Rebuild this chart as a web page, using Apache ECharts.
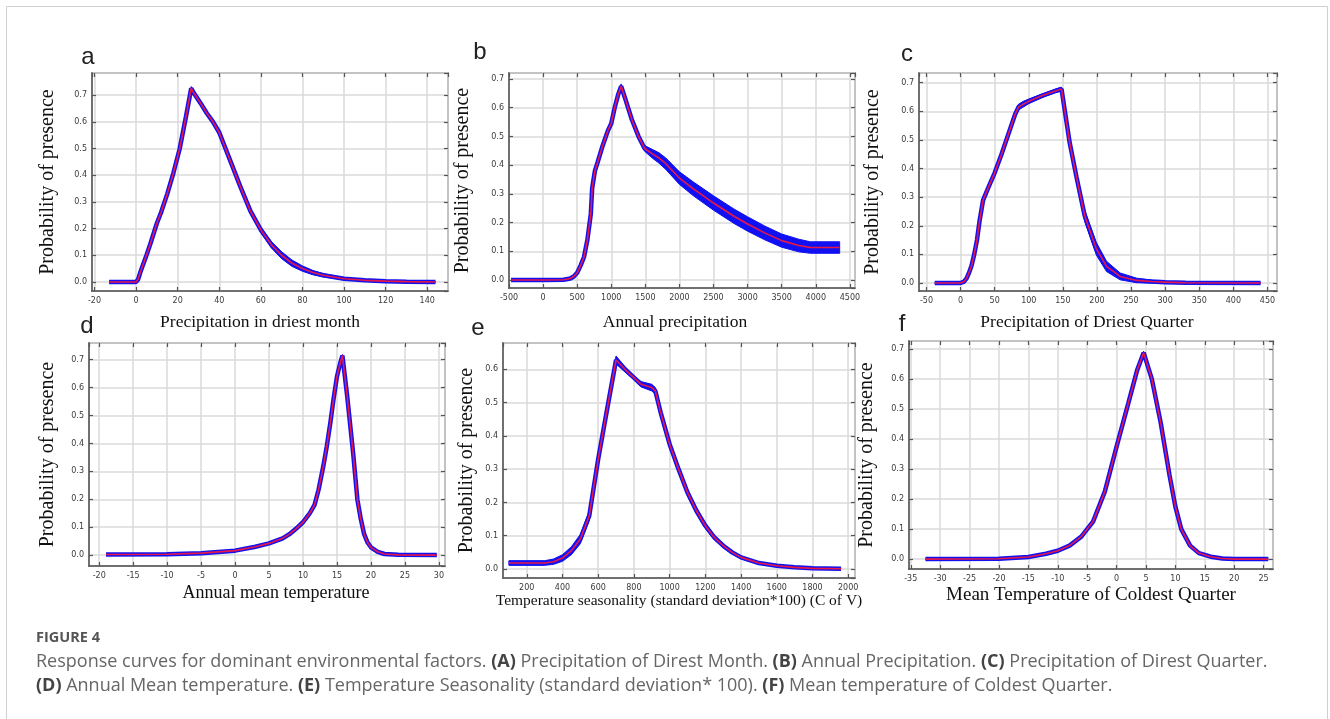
<!DOCTYPE html>
<html><head><meta charset="utf-8">
<script src="https://cdn.jsdelivr.net/npm/echarts@6/dist/echarts.min.js"></script>
<style>html,body{margin:0;padding:0;background:#fff;}#chart{width:1330px;height:719px;}</style>
</head><body><div id="chart"></div>
<script>
// ---- data ----
const aX = [-13,0,1,2,5,7,10,12,15,18,21,24,26.5,28,31,34,37,40,45,50,55,60,65,70,75,80,85,90,100,110,120,130,144];
const aY = [0,0,0.01,0.035,0.1,0.146,0.22,0.26,0.33,0.41,0.5,0.62,0.725,0.705,0.67,0.632,0.6,0.56,0.46,0.36,0.265,0.195,0.14,0.1,0.07,0.05,0.035,0.025,0.012,0.006,0.003,0.001,0];
const aBand = [0,0,0.003,0.005,0.006,0.006,0.006,0.006,0.006,0.006,0.006,0.006,0.007,0.006,0.006,0.006,0.006,0.006,0.007,0.007,0.008,0.01,0.012,0.013,0.012,0.01,0.008,0.006,0.004,0.002,0.001,0,0];

const bX = [-470,0,300,400,450,500,550,600,650,700,720,760,800,870,950,1000,1050,1100,1145,1200,1300,1400,1490,1600,1700,1800,2000,2200,2500,2800,3000,3250,3500,3750,3920,4350];
const bY = [0,0,0.001,0.005,0.012,0.025,0.05,0.08,0.14,0.23,0.32,0.38,0.41,0.465,0.52,0.545,0.6,0.645,0.675,0.635,0.56,0.5,0.458,0.44,0.425,0.405,0.355,0.318,0.268,0.222,0.195,0.164,0.137,0.12,0.113,0.113];
const bBand = [0,0,0,0.002,0.004,0.005,0.006,0.007,0.008,0.01,0.012,0.012,0.012,0.012,0.01,0.008,0.008,0.008,0.008,0.006,0.006,0.006,0.01,0.015,0.018,0.02,0.022,0.024,0.025,0.025,0.025,0.024,0.023,0.022,0.02,0.02];

const cX = [-38,0,5,9,13,16,20,24,28,33,40,50,60,70,80,85,92,100,120,140,148,160,170,182,199,214,234,258,280,300,330,440];
const cY = [0,0,0.005,0.017,0.04,0.06,0.1,0.15,0.22,0.29,0.33,0.385,0.45,0.52,0.59,0.615,0.625,0.635,0.655,0.672,0.678,0.49,0.37,0.235,0.12,0.058,0.023,0.009,0.005,0.003,0.001,0];
const cBand = [0,0,0.003,0.005,0.008,0.01,0.012,0.012,0.012,0.012,0.008,0.006,0.006,0.006,0.008,0.01,0.01,0.008,0.006,0.006,0.006,0.01,0.015,0.02,0.022,0.018,0.012,0.008,0.005,0.003,0.001,0];

const dX = [-19,-10,-5,0,3,5,7,8,9,10,11,11.7,12.3,13,13.5,14,14.5,15,15.5,15.8,16.5,17.4,18,18.5,19,19.5,20,21,22,24,29.7];
const dY = [0.002,0.003,0.007,0.016,0.03,0.042,0.06,0.075,0.095,0.118,0.15,0.18,0.235,0.32,0.39,0.47,0.56,0.64,0.69,0.715,0.57,0.36,0.2,0.13,0.075,0.045,0.028,0.012,0.004,0.001,0];
const dBand = [0,0,0.002,0.003,0.003,0.004,0.005,0.006,0.007,0.008,0.009,0.008,0.006,0.005,0.004,0.004,0.004,0.004,0.004,0.004,0.004,0.005,0.006,0.006,0.006,0.005,0.004,0.003,0.002,0,0];

const eX = [100,300,350,400,450,500,550,600,650,700,750,800,840,900,920,950,1000,1050,1100,1150,1200,1250,1300,1350,1400,1500,1600,1700,1800,1960];
const eY = [0.018,0.018,0.022,0.033,0.055,0.09,0.16,0.33,0.48,0.628,0.6,0.575,0.555,0.545,0.535,0.47,0.375,0.3,0.23,0.175,0.13,0.095,0.07,0.05,0.035,0.018,0.01,0.005,0.002,0.001];
const eBand = [0.007,0.007,0.008,0.01,0.012,0.014,0.014,0.012,0.012,0.012,0.008,0.006,0.008,0.01,0.01,0.01,0.01,0.01,0.01,0.009,0.008,0.007,0.006,0.005,0.004,0.003,0.002,0.001,0,0];

const fX = [-32.5,-20,-15,-12,-10,-8,-6,-4,-2,0,2,3.5,4.6,6,7.5,9,10,11,12.5,14,16,18,20,25.8];
const fY = [0,0.001,0.007,0.018,0.028,0.045,0.075,0.125,0.225,0.375,0.52,0.63,0.688,0.6,0.455,0.28,0.175,0.1,0.045,0.02,0.008,0.002,0,0];
const fBand = [0,0,0.002,0.003,0.004,0.005,0.005,0.005,0.005,0.005,0.005,0.005,0.005,0.005,0.005,0.005,0.005,0.005,0.004,0.003,0.002,0.001,0,0];

const panelLetters = ['a','b','c','d','e','f'];
const xTitles = ['Precipitation in driest month','Annual precipitation','Precipitation of Driest Quarter','Annual mean temperature','Temperature seasonality (standard deviation*100) (C of V)','Mean Temperature of Coldest Quarter'];
const yTitle = 'Probability of presence';
const captionHead = 'FIGURE 4';
const captionLine1 = 'Response curves for dominant environmental factors. {b|(A)} Precipitation of Direst Month. {b|(B)} Annual Precipitation. {b|(C)} Precipitation of Direst Quarter.';
const captionLine2 = '{b|(D)} Annual Mean temperature. {b|(E)} Temperature Seasonality (standard deviation* 100). {b|(F)} Mean temperature of Coldest Quarter.';

// ---- layout / axis ranges ----
const layout = [
  {left:92, top:73, width:356, height:218, xMin:-21.2, xMax:150, xStep:20, yMin:-0.034, yMax:0.783, xGap:22, yGap:34, xFont:17.5, xPad:[0,20,0,0], lx:88, ly:57},
  {left:509, top:73, width:346, height:215, xMin:-500, xMax:4575, xStep:500, yMin:-0.028, yMax:0.721, xGap:25, yGap:36, xFont:17.5, xPad:[0,14,0,0], lx:480, ly:52},
  {left:919, top:73, width:358, height:218, xMin:-61, xMax:464, xStep:50, yMin:-0.028, yMax:0.734, xGap:22, yGap:36, xFont:17.5, xPad:[0,22,0,0], lx:907, ly:54},
  {left:89, top:343, width:356, height:223, xMin:-21.5, xMax:30.9, xStep:5, yMin:-0.039, yMax:0.76, xGap:18, yGap:31, xFont:18, xPad:[0,0,0,18], lx:87, ly:326},
  {left:503, top:343, width:352, height:235, xMin:67, xMax:2038, xStep:200, yMin:-0.027, yMax:0.679, xGap:10, yGap:26, xFont:15.5, xPad:[0,0,0,0], lx:478, ly:328},
  {left:909, top:341, width:364, height:228, xMin:-35.3, xMax:26.6, xStep:5, yMin:-0.033, yMax:0.727, xGap:17, yGap:32, xFont:19, xPad:[0,0,0,0], lx:902, ly:324}
];
const allX = [aX,bX,cX,dX,eX,fX], allY = [aY,bY,cY,dY,eY,fY], allB = [aBand,bBand,cBand,dBand,eBand,fBand];

const isTick = (v, s) => Math.abs(v / s - Math.round(v / s)) < 1e-9;
const grid = [], xAxis = [], yAxis = [], series = [], graphic = [];
const axisColor = '#555', gridColor = '#dadada';
layout.forEach((L, i) => {
  grid.push({left:L.left, top:L.top, width:L.width, height:L.height, show:true, borderColor:axisColor, borderWidth:1.5, containLabel:false});
  xAxis.push({gridIndex:i, type:'value', min:L.xMin, max:L.xMax, minInterval:L.xStep, maxInterval:L.xStep, splitNumber:12,
    axisLine:{onZero:false, lineStyle:{color:axisColor, width:1.5}},
    axisTick:{inside:true, length:4, lineStyle:{color:axisColor, width:1.2}},
    axisLabel:{showMinLabel:isTick(L.xMin, L.xStep), showMaxLabel:isTick(L.xMax, L.xStep), fontSize:8, color:'#3a3a3a', margin:6, fontFamily:'DejaVu Sans', formatter:v => String(v)},
    splitLine:{show:true, lineStyle:{color:gridColor, width:1.5}},
    name:xTitles[i], nameLocation:'middle', nameGap:L.xGap,
    nameTextStyle:{fontFamily:'Liberation Serif', fontSize:L.xFont, color:'#111', padding:L.xPad}});
  yAxis.push({gridIndex:i, type:'value', min:L.yMin, max:L.yMax, minInterval:0.1, maxInterval:0.1, splitNumber:8,
    axisLine:{onZero:false, lineStyle:{color:axisColor, width:1.5}},
    axisTick:{inside:true, length:4, lineStyle:{color:axisColor, width:1.2}},
    axisLabel:{showMinLabel:false, showMaxLabel:false, fontSize:8, color:'#3a3a3a', margin:5, fontFamily:'DejaVu Sans', formatter:v => v.toFixed(1)},
    splitLine:{show:true, lineStyle:{color:gridColor, width:1.5}},
    name:yTitle, nameLocation:'middle', nameGap:L.yGap, nameRotate:90,
    nameTextStyle:{fontFamily:'Liberation Serif', fontSize:20, color:'#111'}});
  const xs = allX[i], ys = allY[i], bs = allB[i];
  const bandData = xs.map((x, k) => [x, ys[k] - bs[k], ys[k] + bs[k]]);
  const mean = xs.map((x, k) => [x, ys[k]]);
  series.push({type:'custom', xAxisIndex:i, yAxisIndex:i, silent:true, animation:false, z:2,
    data:bandData, encode:{x:0, y:[1,2]},
    renderItem:(params, api) => {
      if (params.dataIndexInside !== 0) return null;
      const cnt = params.dataInsideLength, up = [], lo = [];
      for (let k = 0; k < cnt; k++) {
        up.push(api.coord([api.value(0, k), api.value(2, k)]));
        lo.push(api.coord([api.value(0, k), api.value(1, k)]));
      }
      return {type:'polygon', shape:{points:up.concat(lo.reverse())}, style:{fill:'#1010f2', stroke:'#1010f2', lineWidth:1}};
    }});
  const base = {type:'line', xAxisIndex:i, yAxisIndex:i, symbol:'none', silent:true, animation:false};
  series.push(Object.assign({}, base, {data:mean, lineStyle:{color:'#1212f0', width:4.5}, z:3}));
  series.push(Object.assign({}, base, {data:mean, lineStyle:{color:'#e8174a', width:1.6}, z:4}));
  graphic.push({type:'text', x:L.lx, y:L.ly, style:{text:panelLetters[i], fontSize:24, fontFamily:'Liberation Sans', fill:'#222', align:'center', verticalAlign:'middle'}});
});
// secondary top/right axes: only tick marks on the frame
layout.forEach((L, i) => {
  xAxis.push({gridIndex:i, type:'value', position:'top', min:L.xMin, max:L.xMax, minInterval:L.xStep, maxInterval:L.xStep, splitNumber:12,
    axisLine:{show:false, onZero:false}, axisTick:{inside:true, length:4, lineStyle:{color:axisColor, width:1.2}},
    axisLabel:{show:false}, splitLine:{show:false}});
  yAxis.push({gridIndex:i, type:'value', position:'right', min:L.yMin, max:L.yMax, minInterval:0.1, maxInterval:0.1, splitNumber:8,
    axisLine:{show:false, onZero:false}, axisTick:{inside:true, length:4, lineStyle:{color:axisColor, width:1.2}},
    axisLabel:{show:false}, splitLine:{show:false}});
});

graphic.push({type:'rect', shape:{x:6.5, y:6.5, width:1321, height:730}, style:{fill:'none', stroke:'#cfcfcf', lineWidth:1}, z:-1});
graphic.push({type:'text', x:36, y:638, style:{text:captionHead, fontSize:14.5, fontWeight:'bold', fontFamily:'Open Sans', fill:'#555', verticalAlign:'middle'}});
const rich = {b:{fontWeight:'bold', fill:'#444', fontSize:18, fontFamily:'Open Sans'}};
graphic.push({type:'text', x:36, y:662, style:{text:captionLine1, rich:rich, fontSize:18, fontFamily:'Open Sans', fill:'#666', verticalAlign:'middle'}});
graphic.push({type:'text', x:36, y:686, style:{text:captionLine2, rich:rich, fontSize:18, fontFamily:'Open Sans', fill:'#666', verticalAlign:'middle'}});

const chart = echarts.init(document.getElementById('chart'), null, {renderer:'canvas'});
chart.setOption({animation:false, backgroundColor:'#fff', grid, xAxis, yAxis, series, graphic});
</script></body></html>
